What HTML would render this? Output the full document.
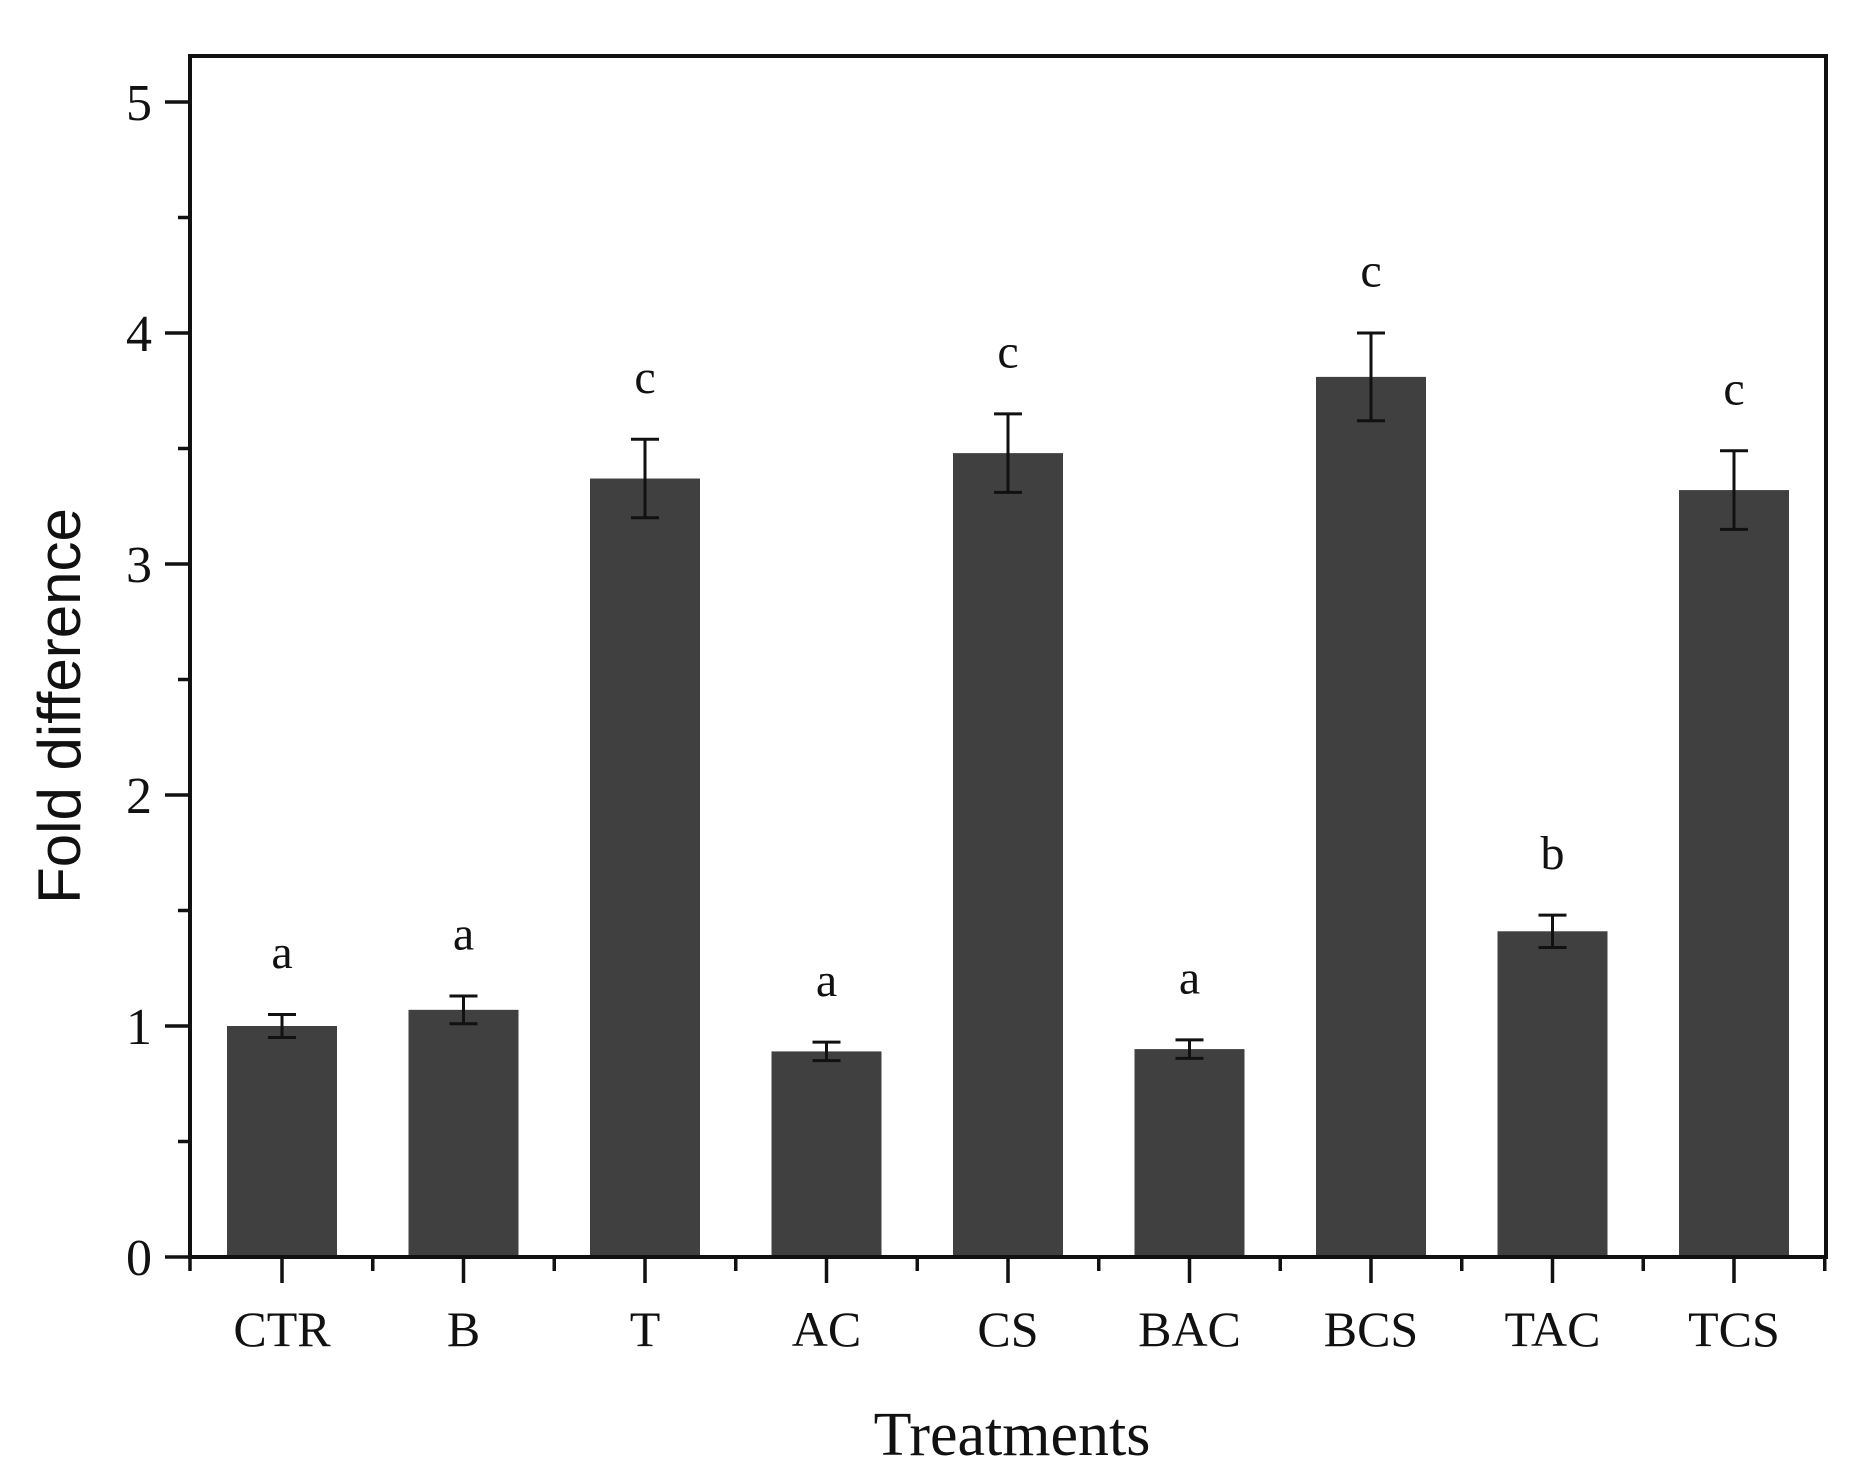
<!DOCTYPE html>
<html><head><meta charset="utf-8"><style>body{margin:0;background:#fff}svg{display:block}text{font-family:"Liberation Serif",serif;fill:#111}</style></head>
<body>
<svg id="chart" width="1863" height="1474" viewBox="0 0 1863 1474" xmlns="http://www.w3.org/2000/svg"></svg>
<script>
const categories = ["CTR","B","T","AC","CS","BAC","BCS","TAC","TCS"];
const values = [1.0,1.07,3.37,0.89,3.48,0.90,3.81,1.41,3.32];
const errors = [0.05,0.06,0.17,0.04,0.17,0.04,0.19,0.07,0.17];
const letters = ["a","a","c","a","c","a","c","b","c"];
const yTicks = [0,1,2,3,4,5];
const yTickLabels = ["0","1","2","3","4","5"];

const svg = document.getElementById('chart');
const NS = 'http://www.w3.org/2000/svg';
const X0 = 190, X1 = 1826, Y0 = 1257, YTOP = 56, UNIT = 231;
const step = 181.5, first = 282, barW = 110;
function y(v){ return Y0 - v*UNIT; }
function x(i){ return first + i*step; }
function mk(tag, attrs, parent){ const e=document.createElementNS(NS,tag); for(const k in attrs) e.setAttribute(k,attrs[k]); (parent||svg).appendChild(e); return e; }

categories.forEach((c,i)=>{
  const r = mk('rect',{x:x(i)-barW/2,y:y(values[i]),width:barW,height:Y0-y(values[i]),fill:'#404040'});
  
  
  const g = mk('g',{stroke:'#111','stroke-width':3});
  
  
  const t = y(values[i]+errors[i]), b = y(values[i]-errors[i]);
  mk('line',{x1:x(i),y1:t,x2:x(i),y2:b},g);
  mk('line',{x1:x(i)-14,y1:t,x2:x(i)+14,y2:t},g);
  mk('line',{x1:x(i)-14,y1:b,x2:x(i)+14,y2:b},g);
  const l = mk('text',{x:x(i),y:y(values[i]+errors[i]+0.27)+16,'font-size':48,'text-anchor':'middle'});
  l.textContent = letters[i];
  
  
  const xl = mk('text',{x:x(i),y:1346,'font-size':50,'text-anchor':'middle'});
  xl.textContent = c;
  
  
  mk('line',{x1:x(i),y1:Y0,x2:x(i),y2:Y0+26,stroke:'#111','stroke-width':3.5});
  mk('line',{x1:x(i)+step/2,y1:Y0,x2:x(i)+step/2,y2:Y0+14,stroke:'#111','stroke-width':3.5});
});
mk('line',{x1:X0,y1:Y0,x2:X0,y2:Y0+14,stroke:'#111','stroke-width':3.5});

yTicks.forEach((v,i)=>{
  mk('line',{x1:X0-25,y1:y(v),x2:X0,y2:y(v),stroke:'#111','stroke-width':3.5});
  if(i<yTicks.length-1) mk('line',{x1:X0-12,y1:y(v+0.5),x2:X0,y2:y(v+0.5),stroke:'#111','stroke-width':3.5});
  const t = mk('text',{x:X0-38,y:y(v)+18,'font-size':52,'text-anchor':'end'});
  t.textContent = yTickLabels[i];
  
  
});

const f = mk('rect',{x:X0,y:YTOP,width:X1-X0,height:Y0-YTOP,fill:'none',stroke:'#111','stroke-width':4});



const yt = mk('text',{x:0,y:0,'font-size':60,'text-anchor':'middle',transform:'translate(80,706) rotate(-90)'});
yt.style.fontFamily='"Liberation Sans",sans-serif';
yt.textContent='Fold difference';


const xt = mk('text',{x:1012,y:1455,'font-size':62,'text-anchor':'middle'});
xt.textContent='Treatments';


</script>
</body></html>
